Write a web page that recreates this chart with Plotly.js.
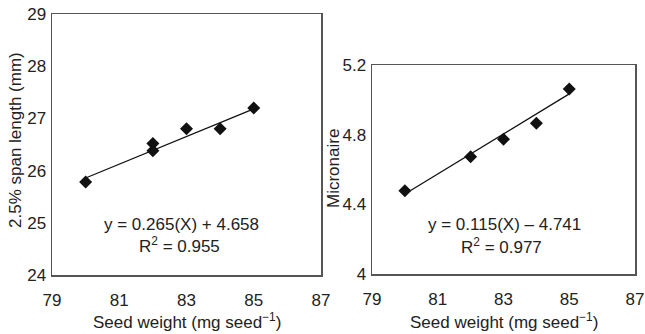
<!DOCTYPE html>
<html>
<head>
<meta charset="utf-8">
<script src="https://cdn.plot.ly/plotly-3.0.1.min.js"></script>
<style>html,body{margin:0;padding:0;background:#fff;}#chart{width:645px;height:334px;}</style>
</head>
<body>
<div id="chart"></div>
<script>
// Data
const seedWeight = [80, 82, 82, 83, 84, 85];
const spanLength = [25.78, 26.52, 26.38, 26.8, 26.8, 27.2];
const seedWeight2 = [80, 82, 83, 84, 85];
const micronaire = [4.478, 4.673, 4.773, 4.865, 5.062];
const fitX = [80, 85];
const fitSpan = [25.858, 27.183];
const fitMic = [4.459, 5.034];
const xTicks = [79, 81, 83, 85, 87];
const yTicks1 = [24, 25, 26, 27, 28, 29];
const yTicks2 = [4, 4.4, 4.8, 5.2];
const yTickText2 = ['4', '4.4', '4.8', '5.2'];
const eq1 = ['y = 0.265(X) + 4.658', 'R<sup>2</sup> = 0.955'];
const eq2 = ['y = 0.115(X) \u2013 4.741', 'R<sup>2</sup> = 0.977'];
const xTitle = 'Seed weight (mg seed<sup>\u22121</sup>)';
const yTitle1 = '2.5% span length (mm)';
const yTitle2 = 'Micronaire';

const W = 645, H = 334;
const px = v => v / W, py = v => 1 - v / H;
const FONT = 'Liberation Sans, Arial, sans-serif';
const FS = 17;
const TXT = '#222';

const marker = {symbol: 'diamond', size: 10, color: '#111'};
const traces = [
  {x: fitX, y: fitSpan, mode: 'lines', line: {color: '#111', width: 1.3}, xaxis: 'x', yaxis: 'y', hoverinfo: 'skip'},
  {x: seedWeight, y: spanLength, mode: 'markers', marker: marker, xaxis: 'x', yaxis: 'y'},
  {x: fitX, y: fitMic, mode: 'lines', line: {color: '#111', width: 1.3}, xaxis: 'x2', yaxis: 'y2', hoverinfo: 'skip'},
  {x: seedWeight2, y: micronaire, mode: 'markers', marker: marker, xaxis: 'x2', yaxis: 'y2'}
];

const xAx = (dom, anchor) => ({
  domain: dom, anchor: anchor, range: [79, 87], tickvals: xTicks, ticktext: xTicks.map(String),
  showgrid: false, zeroline: false, showline: true, mirror: true, linecolor: '#555', linewidth: 1.5,
  ticks: 'outside', ticklen: 9, tickcolor: 'rgba(0,0,0,0)', ticklabeloverflow: 'allow',
  tickfont: {family: FONT, size: FS, color: TXT}
});
const yAx = (dom, anchor, range, vals, text) => ({
  domain: dom, anchor: anchor, range: range, tickvals: vals, ticktext: text,
  showgrid: false, zeroline: false, showline: true, mirror: true, linecolor: '#555', linewidth: 1.5,
  ticks: 'outside', ticklen: 1, tickcolor: 'rgba(0,0,0,0)', ticklabeloverflow: 'allow',
  tickfont: {family: FONT, size: FS, color: TXT}
});

const ann = (text, x, y, extra) => Object.assign({
  text: text, x: px(x), y: py(y), xref: 'paper', yref: 'paper', showarrow: false,
  xanchor: 'center', yanchor: 'middle', font: {family: FONT, size: FS, color: TXT}
}, extra || {});

const layout = {
  width: W, height: H, margin: {l: 0, r: 0, t: 0, b: 0},
  paper_bgcolor: '#fff', plot_bgcolor: '#fff', showlegend: false,
  font: {family: FONT, size: FS, color: TXT},
  xaxis: xAx([px(52), px(321)], 'y'),
  yaxis: yAx([py(275), py(14)], 'x', [24, 29], yTicks1, yTicks1.map(String)),
  xaxis2: xAx([px(372), px(635)], 'y2'),
  yaxis2: yAx([py(274), py(65)], 'x2', [4, 5.2], yTicks2, yTickText2),
  annotations: [
    ann(eq1[0], 181, 224),
    ann(eq1[1], 179, 245),
    ann(eq2[0], 505, 224),
    ann(eq2[1], 501, 246),
    ann(xTitle, 187, 321),
    ann(xTitle, 504, 321),
    ann(yTitle1, 15, 140, {textangle: -90}),
    ann(yTitle2, 333, 169, {textangle: -90})
  ]
};

Plotly.newPlot('chart', traces, layout, {displayModeBar: false, staticPlot: true});
</script>
</body>
</html>
